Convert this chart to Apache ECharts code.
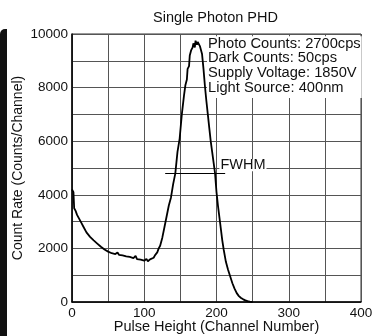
<!DOCTYPE html>
<html>
<head>
<meta charset="utf-8">
<script src="https://cdn.jsdelivr.net/npm/echarts@6/dist/echarts.min.js"></script>
<style>html,body{margin:0;padding:0;background:#fff;}#c{width:372px;height:336px;}</style>
</head>
<body>
<div id="c"></div>
<script>
// Data
var channels = [0,1,2,3,5,7,10,13,16,20,25,30,35,40,45,50,55,60,63,65,70,75,80,85,88,90,95,100,103,105,108,110,113,115,118,120,122,125,128,131,134,137,140,143,146,149,152,155,157,159,160,162,163,165,167,168,170,171,172,173,174,175,176,177,178,180,182,184,186,188,190,192,194,196,198,200,202,205,208,210,213,216,219,222,225,228,231,234,237,240,243,246,250];
var counts   = [4200,4150,4100,3500,3400,3250,3100,2950,2800,2600,2430,2300,2180,2060,1960,1880,1820,1790,1850,1760,1740,1700,1680,1640,1720,1600,1580,1540,1610,1520,1590,1600,1650,1750,1850,2000,2100,2400,2800,3200,3600,3900,4400,4800,5600,6100,7000,7700,8100,8300,8700,8800,9200,9400,9500,9650,9500,9750,9800,9600,9700,9650,9750,9550,9500,9250,8700,8050,7500,7000,6500,6000,5600,5200,4800,4100,3600,2950,2300,1950,1500,1200,950,700,500,330,220,150,100,60,30,10,0];
var xTicks = [0,100,200,300,400];
var yTicks = [0,2000,4000,6000,8000,10000];
var titleText = 'Single Photon PHD';
var xName = 'Pulse Height (Channel Number)';
var yName = 'Count Rate (Counts/Channel)';
var infoLines = ['Photo Counts: 2700cps','Dark Counts: 50cps','Supply Voltage: 1850V','Light Source: 400nm'];
var fwhmStart = 129, fwhmEnd = 212, fwhmLevel = 4800;
var fwhmLabel = 'FWHM';

var pts = channels.map(function(c,i){return [c,counts[i]];});
var FONT = "'Liberation Sans', Arial, Helvetica, sans-serif";
var chart = echarts.init(document.getElementById('c'), null, {renderer:'canvas'});
chart.setOption({
  animation:false,
  backgroundColor:'#fff',
  title:{text:titleText,left:153,top:10,padding:0,
    textStyle:{fontFamily:FONT,fontSize:14.5,fontWeight:'normal',color:'#111'}},
  grid:{left:72,right:11,top:34,bottom:34,show:true,borderColor:'#333',borderWidth:1,
    containLabel:false,outerBoundsMode:'none'},
  xAxis:{type:'value',min:0,max:400,interval:50,
    name:xName,nameLocation:'middle',nameGap:17,nameMoveOverlap:false,
    nameTextStyle:{fontFamily:FONT,fontSize:14.5,color:'#111'},
    axisLine:{show:true,lineStyle:{color:'#000',width:1.5}},
    axisTick:{show:false},
    axisLabel:{margin:4,fontFamily:FONT,fontSize:13.5,color:'#111',
      formatter:function(v){return xTicks.indexOf(v)>=0?String(v):'';}},
    splitLine:{show:true,lineStyle:{color:'#555',width:1}}},
  yAxis:{type:'value',min:0,max:10000,interval:1000,
    name:yName,nameLocation:'middle',nameGap:47,nameMoveOverlap:false,
    nameTextStyle:{fontFamily:FONT,fontSize:14,color:'#111'},
    axisLine:{show:true,lineStyle:{color:'#000',width:1.5}},
    axisTick:{show:false},
    axisLabel:{margin:4,fontFamily:FONT,fontSize:13.5,color:'#111',
      formatter:function(v){return yTicks.indexOf(v)>=0?String(v):'';}},
    splitLine:{show:true,lineStyle:{color:'#555',width:1}}},
  graphic:[
    {type:'rect',shape:{x:0,y:29,width:7,height:320,r:[5,0,0,0]},style:{fill:'#111'}},
    {type:'text',left:207,top:36,z:100,
      style:{text:infoLines.join('\n'),font:'14.7px '+FONT,fill:'#111',lineHeight:14.7,
        backgroundColor:'#fff',padding:[0,1,3,1]}}
  ],
  series:[{
    type:'line',data:pts,showSymbol:false,symbol:'none',
    lineStyle:{color:'#000',width:1.8},
    markLine:{silent:true,symbol:'none',label:{show:false},z:10,
      lineStyle:{color:'#000',width:1,type:'solid'},
      data:[[{coord:[fwhmStart,fwhmLevel]},{coord:[fwhmEnd,fwhmLevel]}]]},
    markPoint:{silent:true,symbol:'rect',symbolSize:0,
      data:[{coord:[204,5100],
        label:{show:true,formatter:fwhmLabel,position:'right',distance:0,lineHeight:12,
          fontFamily:FONT,fontSize:14.5,color:'#111',backgroundColor:'#fff',padding:[0,1]}}]}
  }]
});
</script>
</body>
</html>
